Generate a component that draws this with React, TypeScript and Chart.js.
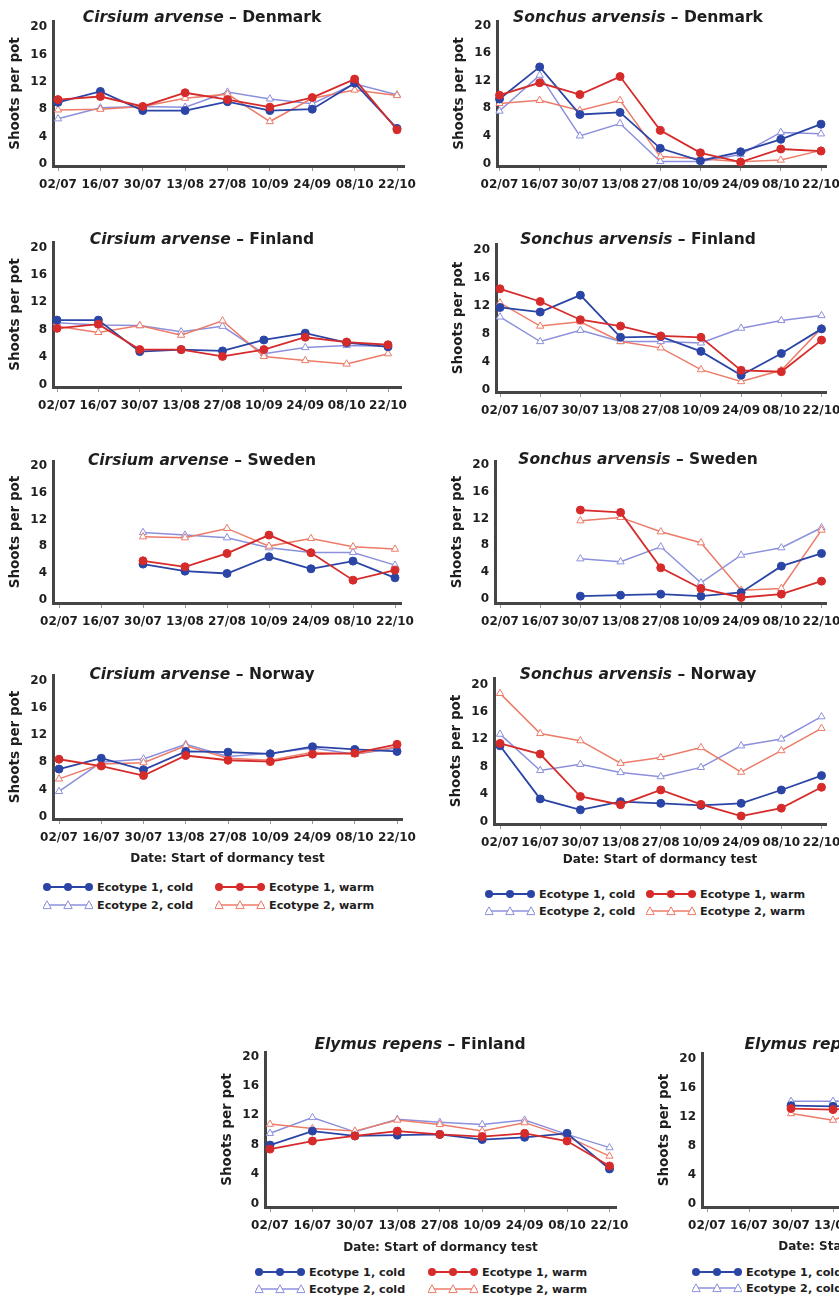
import React, { useEffect, useRef } from "react";
import { Chart, registerables } from "chart.js";

Chart.register(...registerables);

// ---------- shared labels ----------
const dates = ["02/07", "16/07", "30/07", "13/08", "27/08", "10/09", "24/09", "08/10", "22/10"];
const yTicks = [0, 4, 8, 12, 16, 20];
const seriesLabels = ["Ecotype 1, warm", "Ecotype 1, cold", "Ecotype 2, warm", "Ecotype 2, cold"];
const yTitle = "Shoots per pot";
const xTitle = "Date: Start of dormancy test";

// ---------- data (shoots per pot) ----------
// Cirsium arvense – Denmark
const cirDkE1Cold = [9.0, 10.6, 7.8, 7.8, 9.1, 7.8, 8.0, 11.8, 5.2];
const cirDkE1Warm = [9.4, 9.85, 8.4, 10.4, 9.4, 8.3, 9.7, 12.4, 5.0];
const cirDkE2Cold = [6.6, 8.2, 8.4, 8.3, 10.5, 9.5, 8.8, 11.7, 10.1];
const cirDkE2Warm = [7.9, 8.0, 8.4, 9.6, 10.2, 6.2, 9.6, 10.8, 10.0];
// Sonchus arvensis – Denmark
const sonDkE1Cold = [9.35, 14.0, 7.1, 7.4, 2.2, 0.4, 1.7, 3.5, 5.7];
const sonDkE1Warm = [9.9, 11.7, 10.0, 12.6, 4.8, 1.55, 0.2, 2.1, 1.8];
const sonDkE2Cold = [7.6, 12.8, 4.0, 5.8, 0.3, 0.3, 1.3, 4.5, 4.3];
const sonDkE2Warm = [8.7, 9.15, 7.7, 9.15, 1.0, 0.7, 0.25, 0.5, 1.9];
// Cirsium arvense – Finland
const cirFiE1Cold = [9.4, 9.4, 4.8, 5.1, 4.9, 6.5, 7.5, 6.1, 5.5];
const cirFiE1Warm = [8.2, 8.8, 5.1, 5.1, 4.1, 5.1, 6.9, 6.2, 5.8];
const cirFiE2Cold = [9.0, 8.7, 8.6, 7.7, 8.5, 4.5, 5.4, 5.7, 5.6];
const cirFiE2Warm = [8.5, 7.6, 8.6, 7.2, 9.3, 4.1, 3.5, 3.0, 4.5];
// Sonchus arvensis – Finland
const sonFiE1Cold = [11.75, 11.1, 13.5, 7.5, 7.6, 5.5, 2.1, 5.2, 8.7];
const sonFiE1Warm = [14.4, 12.6, 10.0, 9.1, 7.7, 7.5, 2.8, 2.6, 7.1];
const sonFiE2Cold = [10.4, 6.9, 8.5, 6.9, 6.9, 6.7, 8.8, 9.9, 10.6];
const sonFiE2Warm = [12.4, 9.1, 9.7, 6.9, 6.0, 2.9, 1.2, 2.8, 8.8];
// Cirsium arvense – Sweden
const cirSeE1Cold = [null, null, 5.3, 4.25, 3.9, 6.4, 4.6, 5.75, 3.25];
const cirSeE1Warm = [null, null, 5.8, 4.9, 6.9, 9.65, 7.0, 2.9, 4.4];
const cirSeE2Cold = [null, null, 10.05, 9.65, 9.25, 7.75, 7.05, 7.05, 5.15];
const cirSeE2Warm = [null, null, 9.4, 9.25, 10.65, 8.0, 9.15, 7.9, 7.55];
// Sonchus arvensis – Sweden
const sonSeE1Cold = [null, null, 0.35, 0.5, 0.65, 0.35, 0.9, 4.85, 6.75];
const sonSeE1Warm = [null, null, 13.25, 12.9, 4.6, 1.5, 0.15, 0.65, 2.6];
const sonSeE2Cold = [null, null, 5.95, 5.5, 7.75, 2.35, 6.5, 7.6, 10.6];
const sonSeE2Warm = [null, null, 11.65, 12.15, 10.0, 8.35, 1.25, 1.5, 10.25];
// Cirsium arvense – Norway
const cirNoE1Cold = [7.0, 8.6, 6.9, 9.6, 9.5, 9.25, 10.3, 9.9, 9.6];
const cirNoE1Warm = [8.45, 7.45, 6.05, 9.0, 8.3, 8.1, 9.2, 9.35, 10.65];
const cirNoE2Cold = [3.7, 8.0, 8.5, 10.65, 8.85, 9.35, 10.1, 9.2, 10.1];
const cirNoE2Warm = [5.55, 7.75, 7.95, 10.45, 8.6, 8.3, 9.5, 9.2, 10.3];
// Sonchus arvensis – Norway
const sonNoE1Cold = [11.05, 3.3, 1.7, 2.9, 2.65, 2.35, 2.65, 4.6, 6.7];
const sonNoE1Warm = [11.4, 9.85, 3.65, 2.45, 4.6, 2.5, 0.8, 1.95, 5.0];
const sonNoE2Cold = [12.75, 7.45, 8.35, 7.15, 6.55, 7.9, 11.05, 12.05, 15.3];
const sonNoE2Warm = [18.7, 12.85, 11.8, 8.5, 9.35, 10.8, 7.2, 10.35, 13.6];
// Elymus repens – Finland
const elyFiE1Cold = [7.95, 9.85, 9.2, 9.3, 9.4, 8.7, 9.0, 9.55, 4.7];
const elyFiE1Warm = [7.4, 8.5, 9.2, 9.85, 9.4, 9.1, 9.55, 8.5, 5.1];
const elyFiE2Cold = [9.55, 11.7, 9.75, 11.45, 11.05, 10.75, 11.35, 9.4, 7.6];
const elyFiE2Warm = [10.8, 10.2, 9.85, 11.35, 10.75, 9.85, 11.0, 9.1, 6.45];
// Elymus repens – Sweden (only partly visible)
const elySeE1Cold = [null, null, 13.5, 13.4, 13.6, null, null, null, null];
const elySeE1Warm = [null, null, 13.1, 12.95, 13.4, null, null, null, null];
const elySeE2Cold = [null, null, 14.1, 14.1, 14.2, null, null, null, null];
const elySeE2Warm = [null, null, 12.4, 11.5, 13.6, null, null, null, null];

// ---------- styles ----------
const C_E1_COLD = "#2b45a6";
const C_E2_COLD = "#8c90dc";
const C_E1_WARM = "#d62b2b";
const C_E2_WARM = "#ec7b68";
const FONT = '"DejaVu Sans", "Liberation Sans", Arial, sans-serif';
const TEXT = "#1e1e1e";

const seriesStyle = [
  { color: C_E1_WARM, filled: true },
  { color: C_E1_COLD, filled: true },
  { color: C_E2_WARM, filled: false },
  { color: C_E2_COLD, filled: false },
];

type Geo = {
  axisLeft: number; axisRight: number; axisTop: number; axisBottom: number;
  x0: number; x8: number; y0: number; y20: number;
};

type PanelDef = {
  species: string; country: string; titleX: number; titleY: number;
  geo: Geo; series: (number | null)[][]; xTitleOffset?: number;
  legend?: { col1: number; col2: number; row1: number; row2: number };
};

const panels: PanelDef[] = [
  { species: "Cirsium arvense", country: "Denmark", titleX: 202, titleY: 17,
    geo: { axisLeft: 53, axisRight: 404, axisTop: 21, axisBottom: 166, x0: 58, x8: 397, y0: 164, y20: 27 },
    series: [cirDkE1Warm, cirDkE1Cold, cirDkE2Warm, cirDkE2Cold] },
  { species: "Sonchus arvensis", country: "Denmark", titleX: 638, titleY: 17,
    geo: { axisLeft: 497, axisRight: 826, axisTop: 21, axisBottom: 166, x0: 499.5, x8: 821, y0: 163.5, y20: 25.5 },
    series: [sonDkE1Warm, sonDkE1Cold, sonDkE2Warm, sonDkE2Cold] },
  { species: "Cirsium arvense", country: "Finland", titleX: 202, titleY: 239,
    geo: { axisLeft: 53, axisRight: 401, axisTop: 242, axisBottom: 387, x0: 57, x8: 388, y0: 384.5, y20: 247.5 },
    series: [cirFiE1Warm, cirFiE1Cold, cirFiE2Warm, cirFiE2Cold] },
  { species: "Sonchus arvensis", country: "Finland", titleX: 638, titleY: 239,
    geo: { axisLeft: 496, axisRight: 826, axisTop: 244, axisBottom: 392, x0: 500, x8: 821.5, y0: 390, y20: 249.5 },
    series: [sonFiE1Warm, sonFiE1Cold, sonFiE2Warm, sonFiE2Cold] },
  { species: "Cirsium arvense", country: "Sweden", titleX: 202, titleY: 460,
    geo: { axisLeft: 53, axisRight: 401, axisTop: 461, axisBottom: 603, x0: 59, x8: 395, y0: 599.5, y20: 466 },
    series: [cirSeE1Warm, cirSeE1Cold, cirSeE2Warm, cirSeE2Cold] },
  { species: "Sonchus arvensis", country: "Sweden", titleX: 638, titleY: 459,
    geo: { axisLeft: 495, axisRight: 826, axisTop: 461, axisBottom: 603, x0: 500, x8: 821.5, y0: 598.5, y20: 465 },
    series: [sonSeE1Warm, sonSeE1Cold, sonSeE2Warm, sonSeE2Cold] },
  { species: "Cirsium arvense", country: "Norway", titleX: 202, titleY: 674,
    geo: { axisLeft: 53, axisRight: 402, axisTop: 675, axisBottom: 819, x0: 59, x8: 397, y0: 816.5, y20: 681 },
    series: [cirNoE1Warm, cirNoE1Cold, cirNoE2Warm, cirNoE2Cold], xTitleOffset: 40,
    legend: { col1: 43, col2: 215, row1: 887, row2: 905 } },
  { species: "Sonchus arvensis", country: "Norway", titleX: 638, titleY: 674,
    geo: { axisLeft: 494, axisRight: 826, axisTop: 678, axisBottom: 824, x0: 500, x8: 821.5, y0: 821.5, y20: 684.5 },
    series: [sonNoE1Warm, sonNoE1Cold, sonNoE2Warm, sonNoE2Cold], xTitleOffset: 36,
    legend: { col1: 485, col2: 646, row1: 894, row2: 911 } },
  { species: "Elymus repens", country: "Finland", titleX: 420, titleY: 1044,
    geo: { axisLeft: 265, axisRight: 616, axisTop: 1052, axisBottom: 1207, x0: 270, x8: 609.5, y0: 1203.5, y20: 1056.5 },
    series: [elyFiE1Warm, elyFiE1Cold, elyFiE2Warm, elyFiE2Cold], xTitleOffset: 41,
    legend: { col1: 255, col2: 428, row1: 1272, row2: 1289 } },
  { species: "Elymus repens", country: "Sweden", titleX: 852, titleY: 1044,
    geo: { axisLeft: 702, axisRight: 1049, axisTop: 1053, axisBottom: 1207, x0: 707, x8: 1043, y0: 1203.5, y20: 1058.5 },
    series: [elySeE1Warm, elySeE1Cold, elySeE2Warm, elySeE2Cold], xTitleOffset: 40,
    legend: { col1: 692, col2: 865, row1: 1272, row2: 1288 } },
];

const WY = 53;
const PR = 24;
const PT = 16;

function PanelChart({ p }: { p: PanelDef }) {
  const ref = useRef<HTMLCanvasElement>(null);
  const g = p.geo;
  const HX = p.xTitleOffset ? p.xTitleOffset + 14 : 30;
  const width = WY + (g.axisRight - g.axisLeft) + PR;
  const height = PT + (g.axisBottom - g.axisTop) + HX;

  useEffect(() => {
    if (!ref.current) return;
    const pxX = (g.x8 - g.x0) / 8;
    const pxY = (g.y0 - g.y20) / 20;
    const xMin = -(g.x0 - g.axisLeft) / pxX;
    const xMax = 8 + (g.axisRight - g.x8) / pxX;
    const yMin = -(g.axisBottom - g.y0) / pxY;
    const yMax = 20 + (g.y20 - g.axisTop) / pxY;

    const datasets = p.series.map((vals, k) => {
      const st = seriesStyle[k];
      return {
        label: seriesLabels[k],
        data: vals.map((v, i) => ({ x: i, y: v })),
        borderColor: st.color,
        backgroundColor: st.filled ? st.color : "#ffffff",
        borderWidth: st.filled ? 1.8 : 1.5,
        pointStyle: st.filled ? "circle" : "triangle",
        pointRadius: st.filled ? 4 : 4.2,
        pointBorderWidth: 1,
        pointBorderColor: st.color,
        pointBackgroundColor: st.filled ? st.color : "#ffffff",
        tension: 0,
        clip: false as any,
        spanGaps: false,
      };
    });

    const chart = new Chart(ref.current, {
      type: "line",
      data: { datasets: datasets as any },
      options: {
        responsive: false,
        maintainAspectRatio: false,
        animation: false,
        layout: { padding: { left: 0, right: PR, top: PT, bottom: 0 } },
        plugins: { legend: { display: false }, title: { display: false }, tooltip: { enabled: false } },
        scales: {
          x: {
            type: "linear",
            min: xMin,
            max: xMax,
            afterBuildTicks: (s: any) => { s.ticks = dates.map((_, i) => ({ value: i })); },
            afterFit: (s: any) => { s.height = HX; },
            ticks: {
              autoSkip: false, maxRotation: 0, minRotation: 0, padding: 7,
              color: TEXT, font: { family: FONT, size: 12, weight: "bold" },
              callback: (v: any) => dates[Math.round(Number(v))] ?? "",
            },
            grid: { display: true, drawOnChartArea: false, drawTicks: true, tickLength: 5, color: "#9a9a9a", lineWidth: 1 },
            border: { display: true, color: "#454545", width: 3 },
            title: {
              display: !!p.xTitleOffset, text: xTitle, color: TEXT,
              font: { family: FONT, size: 12, weight: "bold" },
              padding: { top: 0, bottom: 6.8 },
            },
          },
          y: {
            type: "linear",
            min: yMin,
            max: yMax,
            afterBuildTicks: (s: any) => { s.ticks = yTicks.map((v) => ({ value: v })); },
            afterFit: (s: any) => { s.width = WY; },
            ticks: { padding: 6, color: TEXT, font: { family: FONT, size: 12, weight: "bold" } },
            grid: { display: false, drawTicks: false },
            border: { display: true, color: "#454545", width: 3 },
            title: {
              display: true, text: yTitle, color: TEXT,
              font: { family: FONT, size: 13.5, weight: "bold" },
              padding: { top: 7, bottom: 0 },
            },
          },
        },
      } as any,
    });
    return () => chart.destroy();
  }, []);

  return (
    <canvas
      ref={ref}
      width={width}
      height={height}
      style={{ position: "absolute", left: g.axisLeft - WY, top: g.axisTop - PT, width, height }}
    />
  );
}

function LegendSymbol({ color, filled }: { color: string; filled: boolean }) {
  const xs = [4, 25, 46];
  return (
    <svg width={50} height={12} style={{ display: "block" }}>
      <line x1={1} y1={6} x2={49} y2={6} stroke={color} strokeWidth={filled ? 1.8 : 1.5} />
      {xs.map((cx) =>
        filled ? (
          <circle key={cx} cx={cx} cy={6} r={4} fill={color} />
        ) : (
          <polygon key={cx} points={`${cx},1.8 ${cx + 4.2},9.6 ${cx - 4.2},9.6`} fill="#ffffff" stroke={color} strokeWidth={1} />
        )
      )}
    </svg>
  );
}

function LegendItem({ x, y, label, color, filled }: { x: number; y: number; label: string; color: string; filled: boolean }) {
  return (
    <div style={{ position: "absolute", left: x, top: y - 8, height: 16, display: "flex", alignItems: "center", whiteSpace: "nowrap" }}>
      <LegendSymbol color={color} filled={filled} />
      <span style={{ marginLeft: 4, font: `bold 11.2px ${FONT}`, color: TEXT }}>{label}</span>
    </div>
  );
}

function Panel({ p }: { p: PanelDef }) {
  return (
    <>
      <PanelChart p={p} />
      <div
        style={{
          position: "absolute", left: p.titleX, top: p.titleY, transform: "translate(-50%, -50%)",
          whiteSpace: "nowrap", font: `bold 15.5px ${FONT}`, color: TEXT, lineHeight: "18px",
        }}
      >
        <i>{p.species}</i> – {p.country}
      </div>
      {p.legend && (
        <>
          <LegendItem x={p.legend.col1} y={p.legend.row1} label={seriesLabels[1]} color={C_E1_COLD} filled />
          <LegendItem x={p.legend.col2} y={p.legend.row1} label={seriesLabels[0]} color={C_E1_WARM} filled />
          <LegendItem x={p.legend.col1} y={p.legend.row2} label={seriesLabels[3]} color={C_E2_COLD} filled={false} />
          <LegendItem x={p.legend.col2} y={p.legend.row2} label={seriesLabels[2]} color={C_E2_WARM} filled={false} />
        </>
      )}
    </>
  );
}

export default function App() {
  return (
    <div
      style={{
        position: "absolute", left: 0, top: 0, width: 839, height: 1297,
        overflow: "hidden", background: "#ffffff",
      }}
    >
      {panels.map((p, i) => (
        <Panel key={i} p={p} />
      ))}
    </div>
  );
}
